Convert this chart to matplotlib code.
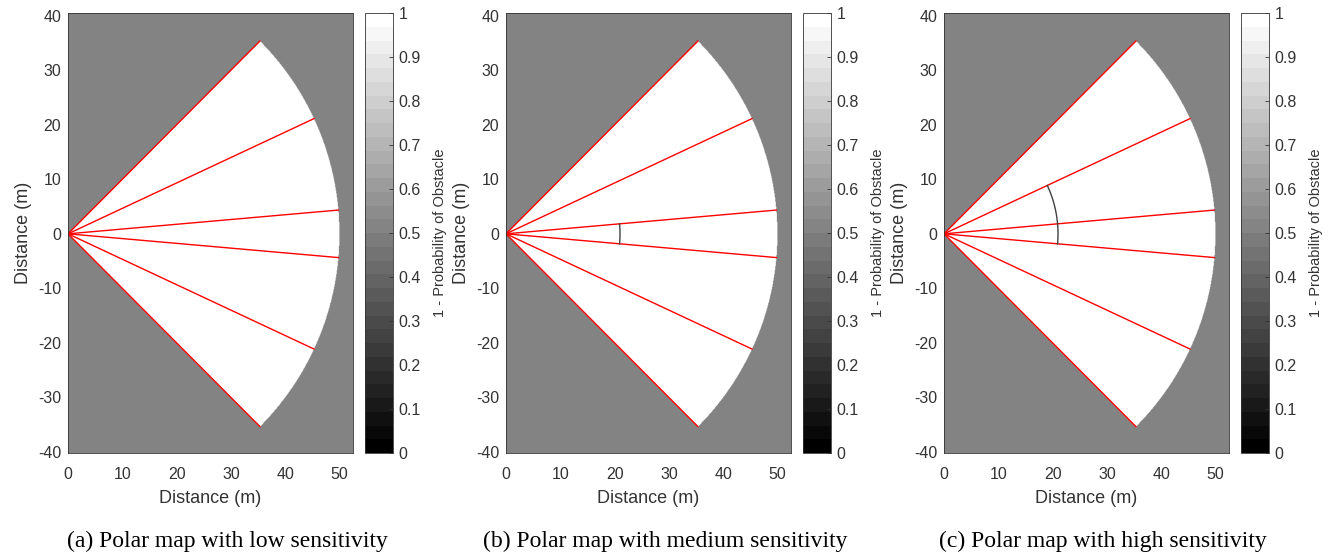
import numpy as np
import matplotlib
matplotlib.use("Agg")
import matplotlib.pyplot as plt
from matplotlib import colors, colorbar

# sensor / map parameters
max_range = 50.0
fov = 45.0                       # half field of view (deg)
beam_angles = [-45, -25, -5, 5, 25, 45]
free_value = 1.0                 # 1 - P(obstacle) inside the sector
unknown_value = 0.5              # outside the sector
obstacle_radius = 21.0
arc_spans = [None, (-5, 5), (-5, 25)]   # obstacle arc per sensitivity
captions = ["(a) Polar map with low sensitivity",
            "(b) Polar map with medium sensitivity",
            "(c) Polar map with high sensitivity"]
xticks = [0, 10, 20, 30, 40, 50]
yticks = [-40, -30, -20, -10, 0, 10, 20, 30, 40]
cticks = [0, 0.1, 0.2, 0.3, 0.4, 0.5, 0.6, 0.7, 0.8, 0.9, 1]

plt.rcParams['font.family'] = ['Liberation Sans', 'DejaVu Sans']
plt.rcParams['axes.unicode_minus'] = False
tc = '#333333'

W, H = 1335, 556
fig = plt.figure(figsize=(W / 100, H / 100), dpi=100)
cmap = plt.get_cmap('gray', 32)
norm = colors.Normalize(0, 1)

# occupancy grid
xs = np.arange(0, 52.5, 0.1) + 0.05
ys = np.arange(-40.2, 40.5, 0.1) + 0.05
X, Y = np.meshgrid(xs, ys)
R = np.hypot(X, Y)
A = np.degrees(np.arctan2(Y, X))
grid = np.where((R <= max_range) & (np.abs(A) <= fov), free_value, unknown_value)


def fx(px):
    return px / W


def fy(py):
    return 1 - py / H


for i in range(3):
    off = i * 438
    ax = fig.add_axes([fx(68 + off), fy(453), 285 / W, 440 / H])
    ax.imshow(grid, cmap=cmap, norm=norm, origin='lower',
              extent=[0, 52.5, -40.2, 40.5], aspect='auto',
              interpolation='antialiased')
    for a in beam_angles:
        t = np.radians(a)
        ax.plot([0, max_range * np.cos(t)], [0, max_range * np.sin(t)],
                color='red', lw=1.0)
    if arc_spans[i] is not None:
        t = np.radians(np.linspace(arc_spans[i][0], arc_spans[i][1], 60))
        ax.plot(obstacle_radius * np.cos(t), obstacle_radius * np.sin(t),
                color='#404040', lw=1.0)
    ax.set_xlim(0, 52.5)
    ax.set_ylim(-40.2, 40.5)
    ax.set_xticks(xticks)
    ax.set_yticks(yticks)
    ax.tick_params(direction='in', length=0, labelsize=11.5, colors=tc)
    ax.tick_params(axis='x', pad=10)
    ax.tick_params(axis='y', pad=5)
    for s in ax.spines.values():
        s.set_color(tc)
        s.set_linewidth(0.6)
    ax.set_xlabel('Distance (m)', fontsize=13, color=tc, labelpad=6)
    ax.set_ylabel('Distance (m)', fontsize=13, color=tc, labelpad=4)

    cax = fig.add_axes([fx(365 + off), fy(453), 28 / W, 440 / H])
    cb = colorbar.ColorbarBase(cax, cmap=cmap, norm=norm, ticks=cticks)
    cb.ax.set_yticklabels([f'{v:g}' for v in cticks])
    cb.ax.tick_params(direction='in', length=3, width=0.6, labelsize=11.5,
                      colors=tc, pad=4)
    cb.outline.set_edgecolor(tc)
    cb.outline.set_linewidth(0.6)
    cb.set_label('1 - Probability of Obstacle', fontsize=10.5, color=tc,
                 labelpad=9)

    fig.text(fx(227 + off), fy(541), captions[i], ha='center', va='center',
             fontsize=17, family=['Liberation Serif', 'DejaVu Serif'])

fig.savefig('out.png', dpi=100)
